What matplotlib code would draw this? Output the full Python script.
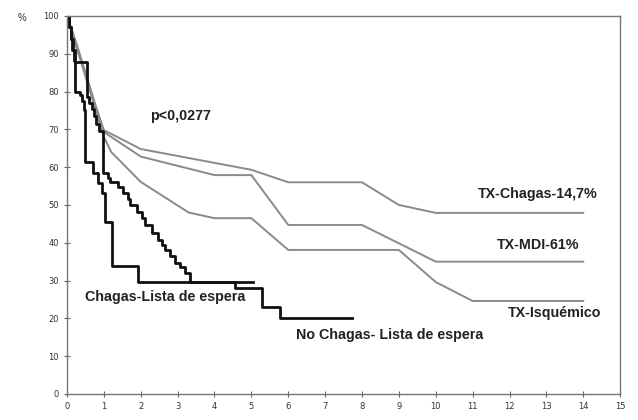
import matplotlib
matplotlib.use("Agg")
import matplotlib.pyplot as plt

# Kaplan-Meier curves, waiting list (step curves)
t_chagas_lista = [0, 0.05, 0.10, 0.14, 0.18, 0.23, 0.36, 0.41, 0.45, 0.50, 0.71, 0.84, 0.95, 1.03, 1.22, 1.93, 5.04]
s_chagas_lista = [100, 97, 94, 91, 88, 80, 79, 77.5, 75, 61.4, 58.5, 55.8, 53.2, 45.5, 33.8, 29.6, 29.6]

t_nochagas_lista = [0, 0.05, 0.10, 0.15, 0.22, 0.54, 0.60, 0.68, 0.74, 0.79, 0.87, 0.98, 1.11, 1.17, 1.38,
                    1.52, 1.65, 1.71, 1.90, 2.03, 2.12, 2.31, 2.47, 2.58, 2.66, 2.79, 2.93, 3.06, 3.20, 3.34,
                    4.56, 5.29, 5.78, 7.73]
s_nochagas_lista = [100, 97, 94, 91, 87.8, 78.6, 77, 75.5, 73.5, 71.5, 69.5, 58.5, 57.2, 56.1, 54.8,
                    53.2, 51.5, 50, 48.1, 46.5, 44.7, 42.7, 40.7, 39.5, 38.1, 36.5, 34.7, 33.6, 32, 29.6,
                    28, 23, 20.1, 20.1]

# transplant curves (thin gray lines)
x_tx_chagas = [0, 0.25, 0.5, 0.75, 1.0, 2.0, 5.0, 6.0, 8.0, 9.0, 10.0, 14.0]
y_tx_chagas = [100, 92, 85, 77, 69.8, 64.8, 59.3, 56, 56, 50, 47.9, 47.9]

x_tx_mdi = [0, 0.25, 0.5, 0.75, 1.0, 2.0, 4.0, 5.0, 6.0, 8.0, 10.0, 14.0]
y_tx_mdi = [100, 93, 85, 77, 69.3, 62.8, 57.9, 57.9, 44.7, 44.7, 35, 35]

x_tx_isq = [0, 0.25, 0.5, 0.75, 1.0, 1.2, 2.0, 3.3, 4.0, 5.0, 6.0, 9.0, 10.0, 11.0, 14.0]
y_tx_isq = [100, 92, 84, 76, 68, 64, 56.1, 48, 46.5, 46.5, 38.1, 38.1, 29.6, 24.6, 24.6]

fig = plt.figure(figsize=(6.38, 4.20), dpi=100)
ax = fig.add_axes([0.105, 0.062, 0.867, 0.9])
plt.rcParams['font.family'] = ['Liberation Sans', 'DejaVu Sans']

gray = '#8a8a8a'
ax.plot(x_tx_chagas, y_tx_chagas, color=gray, lw=1.4)
ax.plot(x_tx_mdi, y_tx_mdi, color=gray, lw=1.4)
ax.plot(x_tx_isq, y_tx_isq, color=gray, lw=1.4)

ax.plot(t_chagas_lista, s_chagas_lista, drawstyle='steps-post', color='#111111', lw=2.0)
ax.plot(t_nochagas_lista, s_nochagas_lista, drawstyle='steps-post', color='#111111', lw=2.0)

ax.set_xlim(0, 15)
ax.set_ylim(0, 100)
ax.set_xticks(range(0, 16))
ax.set_yticks(range(0, 101, 10))
ax.set_yticklabels([str(v) for v in range(0, 100, 10)] + ['100'])
ax.tick_params(direction='inout', length=4, width=0.8, color='#666666',
               labelsize=6, labelcolor='#333333', pad=4)
for sp in ax.spines.values():
    sp.set_color('#777777')
    sp.set_linewidth(1.0)

bold = dict(fontsize=10.3, fontweight='bold', color='#222222', family=['Liberation Sans', 'DejaVu Sans'])
ax.text(2.25, 73.5, 'p<0,0277', va='center', ha='left', **bold)
ax.text(0.49, 25.7, 'Chagas-Lista de espera', va='center', ha='left', **bold)
ax.text(6.2, 15.6, 'No Chagas- Lista de espera', va='center', ha='left', **bold)
ax.text(11.15, 52.9, 'TX-Chagas-14,7%', va='center', ha='left', **bold)
ax.text(11.65, 39.4, 'TX-MDI-61%', va='center', ha='left', **bold)
ax.text(11.95, 21.4, 'TX-Isquémico', va='center', ha='left', **bold)
fig.text(18 / 638, 1 - 18 / 420, '%', fontsize=7, color='#333333', va='center')

fig.savefig('out.png', dpi=100)
